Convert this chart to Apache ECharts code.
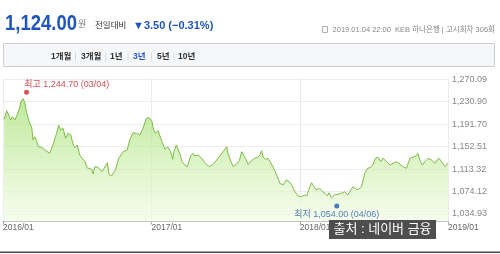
<!DOCTYPE html>
<html><head><meta charset="utf-8">
<script src="https://cdn.jsdelivr.net/npm/echarts@6/dist/echarts.min.js"></script>
<style>html,body{margin:0;padding:0;background:#fff}#c{width:500px;height:254px}</style>
</head><body><div id="c"></div>
<script>
// ---------- data ----------
const dates = [
'2016-01-04','2016-01-10','2016-01-15','2016-01-20','2016-01-24','2016-01-30','2016-02-05','2016-02-10','2016-02-15','2016-02-20',
'2016-02-24','2016-02-28','2016-03-05','2016-03-12','2016-03-15','2016-03-19','2016-03-24','2016-03-28','2016-04-05','2016-04-13',
'2016-04-25','2016-05-03','2016-05-12','2016-05-17','2016-05-22','2016-05-28','2016-06-03','2016-06-09','2016-06-16','2016-06-22',
'2016-06-26','2016-07-02','2016-07-08','2016-07-12','2016-07-21','2016-07-26','2016-08-06','2016-08-10','2016-08-14','2016-08-22',
'2016-08-26','2016-09-01','2016-09-06','2016-09-14','2016-09-18','2016-09-24','2016-09-28','2016-10-04','2016-10-12','2016-10-23',
'2016-11-02','2016-11-08','2016-11-16','2016-11-25','2016-12-03','2016-12-11','2016-12-19','2016-12-26','2017-01-02','2017-01-06',
'2017-01-11','2017-01-17','2017-01-25','2017-02-03','2017-02-09','2017-02-17','2017-02-22','2017-02-25','2017-03-03','2017-03-07',
'2017-03-11','2017-03-17','2017-03-24','2017-03-30','2017-04-07','2017-04-13','2017-04-17','2017-04-26','2017-05-04','2017-05-12',
'2017-05-23','2017-06-02','2017-06-10','2017-06-18','2017-06-26','2017-07-05','2017-07-08','2017-07-14','2017-07-21','2017-07-29',
'2017-08-05','2017-08-11','2017-08-14','2017-08-20','2017-08-27','2017-09-04','2017-09-12','2017-09-19','2017-09-25','2017-09-29',
'2017-10-03','2017-10-09','2017-10-15','2017-10-23','2017-10-27','2017-10-31','2017-11-06','2017-11-13','2017-11-21','2017-11-29',
'2017-12-06','2017-12-12','2017-12-20','2017-12-28','2018-01-05','2018-01-12','2018-01-18','2018-01-23','2018-01-30','2018-02-05',
'2018-02-11','2018-02-19','2018-02-26','2018-03-04','2018-03-10','2018-03-14','2018-03-20','2018-03-27','2018-04-05','2018-04-14',
'2018-04-22','2018-04-29','2018-05-04','2018-05-12','2018-05-21','2018-05-26','2018-06-02','2018-06-06','2018-06-10','2018-06-17',
'2018-06-25','2018-07-01','2018-07-06','2018-07-13','2018-07-19','2018-07-25','2018-08-03','2018-08-11','2018-08-19','2018-08-27',
'2018-09-04','2018-09-12','2018-09-21','2018-09-25','2018-09-29','2018-10-07','2018-10-14','2018-10-19','2018-10-25','2018-10-30',
'2018-11-05','2018-11-13','2018-11-21','2018-11-30','2018-12-05','2018-12-10','2018-12-16','2018-12-24','2019-01-01'
];
const rates = [
1200.3,1215.3,1207.8,1199.0,1204.8,1199.0,1207.8,1218.2,1232.7,1236.2,
1228.2,1211.8,1197.8,1184.6,1164.1,1169.9,1162.4,1152.4,1151.4,1146.7,
1140.9,1155.4,1175.8,1190.3,1181.6,1184.6,1167.1,1175.8,1172.9,1155.4,
1150.7,1155.4,1137.9,1133.9,1126.2,1115.8,1113.0,1104.8,1117.5,1116.5,
1114.7,1108.8,1114.7,1124.5,1104.8,1101.3,1103.0,1111.8,1132.2,1143.7,
1146.7,1164.1,1176.9,1175.8,1172.9,1184.6,1202.0,1203.1,1196.1,1181.6,
1175.8,1180.4,1164.1,1147.9,1152.4,1143.7,1130.4,1143.7,1155.4,1153.7,
1140.9,1126.2,1120.5,1117.5,1136.2,1140.9,1136.2,1137.9,1132.2,1124.5,
1117.5,1121.7,1129.2,1136.2,1143.7,1152.4,1140.9,1129.2,1117.5,1121.7,
1128.0,1143.7,1142.0,1132.2,1121.7,1128.0,1132.2,1133.9,1137.9,1145.4,
1133.9,1130.4,1132.2,1122.2,1117.5,1118.7,1101.3,1088.5,1085.6,1094.3,
1091.3,1085.6,1073.9,1066.4,1065.1,1068.1,1066.4,1076.8,1089.6,1082.6,
1076.8,1079.8,1073.9,1071.1,1066.4,1072.1,1063.4,1068.1,1069.3,1071.1,
1073.9,1068.1,1073.9,1082.6,1078.1,1078.1,1082.6,1094.3,1106.0,1114.7,
1116.5,1122.2,1132.2,1133.9,1126.2,1132.2,1126.2,1120.5,1123.5,1126.2,
1122.2,1117.5,1114.7,1123.5,1132.2,1133.9,1136.2,1140.9,1126.2,1120.5,
1126.2,1132.2,1129.2,1123.5,1129.2,1132.2,1126.2,1117.5,1124.0
];
const xTickDates = ['2016-01-01','2017-01-01','2018-01-01','2019-01-01'];
const yTickValues = [1034.93, 1074.12, 1113.32, 1152.51, 1191.70, 1230.90, 1270.09];
const highPoint = ['2016-02-28', 1244.70];
const lowPoint = ['2018-04-02', 1054.00];
const highText = '최고 1,244.70 (03/04)';
const lowText = '최저 1,054.00 (04/06)';
const currentRate = '1,124.00';
const changeText = '▼3.50 (−0.31%)';
const infoText = '2019.01.04 22:00  KEB 하나은행 | 고시회차 306회';
const tabs = ['1개월','3개월','1년','3년','5년','10년'];
const sourceText = '출처 : 네이버 금융';

// ---------- helpers ----------
function ts(s){const p=s.split('-').map(Number);return new Date(p[0],p[1]-1,p[2]).getTime();}
function fmtNum(v){const s=Number(v).toFixed(2).split('.');return s[0].replace(/\B(?=(\d{3})+(?!\d))/g,',')+'.'+s[1];}
function fmtYM(v){const d=new Date(v);return d.getFullYear()+'/'+String(d.getMonth()+1).padStart(2,'0');}
const FF = "'Liberation Sans','Noto Sans CJK KR',sans-serif";

const chart = echarts.init(document.getElementById('c'), null, {renderer:'canvas'});

const tabX = [51,81,110,133,157,178];
const sepX = [75.5,105.5,128,151.5,174];
const graphics = [
  {type:'rect', shape:{x:3.5,y:43.5,width:491,height:23}, style:{fill:'#f5f6f8',stroke:'#cdd0d6',lineWidth:1}, z:1},
  {type:'text', x:5, y:24, scaleX:0.84, style:{text:currentRate,x:0,y:0,verticalAlign:'middle',font:"bold 22px "+FF,fill:'#1f55c0'}},
  {type:'text', style:{text:'원',x:78,y:25,verticalAlign:'middle',font:"9px "+FF,fill:'#777'}},
  {type:'text', style:{text:'전일대비',x:95,y:26,verticalAlign:'middle',font:"8.5px "+FF,fill:'#333'}},
  {type:'text', style:{text:changeText,x:133,y:26,verticalAlign:'middle',font:"bold 11px "+FF,fill:'#1f55c0'}},
  {type:'rect', shape:{x:322.5,y:26.5,width:5,height:6}, style:{fill:'none',stroke:'#b0b0b0',lineWidth:1}},
  {type:'text', style:{text:infoText,x:495,y:30,align:'right',verticalAlign:'middle',font:"7.5px "+FF,fill:'#888'}},
  {type:'rect', shape:{x:0,y:251.5,width:500,height:1.5}, style:{fill:'#4a4a4a'}},
  {type:'rect', shape:{x:329,y:220,width:107,height:19}, style:{fill:'#4e4e4e'}, z:100},
  {type:'text', style:{text:sourceText,x:382.5,y:229.5,align:'center',verticalAlign:'middle',font:"13px "+FF,fill:'#fff'}, z:101}
];
tabs.forEach((t,i)=>{
  graphics.push({type:'text', z:2, style:{text:t,x:tabX[i],y:56.5,verticalAlign:'middle',font:"bold 8.5px "+FF,fill:t==='3년'?'#2a5ccc':'#333'}});
});
sepX.forEach(x=>{
  graphics.push({type:'line', z:2, shape:{x1:x,y1:52.5,x2:x,y2:60.5}, style:{stroke:'#d6d9de',lineWidth:1}});
});

const xTicks = xTickDates.map(ts);
const option = {
  animation:false,
  grid:{left:3,right:52,top:79.3,bottom:32.5,containLabel:false,outerBoundsMode:'none'},
  xAxis:{
    type:'value', min:ts('2016-01-01'), max:ts('2019-01-01'),
    axisLine:{show:true,lineStyle:{color:'#a8a8a8',width:1}},
    axisTick:{show:true,length:3,lineStyle:{color:'#a8a8a8'},customValues:xTicks},
    axisLabel:{customValues:xTicks,formatter:v=>fmtYM(v),align:'left',margin:2,fontSize:8.5,color:'#666',fontFamily:FF},
    splitLine:{show:true,lineStyle:{color:'#ececec',width:1}}
  },
  yAxis:{
    type:'value', position:'right', min:1021.84, max:1270.09,
    axisLine:{show:false},
    axisTick:{show:false,customValues:yTickValues},
    axisLabel:{customValues:yTickValues,formatter:v=>fmtNum(v),margin:4,fontSize:9,color:'#888',fontFamily:FF},
    splitLine:{show:true,lineStyle:{color:'#ececec',width:1}}
  },
  series:[
    {
      type:'line', data:dates.map((d,i)=>[ts(d),rates[i]]), showSymbol:false, symbol:'none', silent:true,
      lineStyle:{color:'#7dba48',width:1},
      areaStyle:{color:new echarts.graphic.LinearGradient(0,0,0,1,[{offset:0,color:'#a3de70'},{offset:0.5,color:'#cdefad'},{offset:1,color:'#f1fbe6'}])},
      z:2
    },
    {
      type:'scatter', data:[[ts(highPoint[0]),highPoint[1]]], symbolSize:5, symbolOffset:[0,-1.5], silent:true,
      itemStyle:{color:'#e0262b'},
      label:{show:true,formatter:highText,position:'top',align:'left',offset:[-2.4,0],distance:1,fontSize:9,color:'#c9232b',fontFamily:FF},
      z:5
    },
    {
      type:'scatter', data:[[ts(lowPoint[0]),lowPoint[1]]], symbolSize:5, symbolOffset:[0,3], silent:true,
      itemStyle:{color:'#1f5bb5'},
      label:{show:true,formatter:lowText,position:'bottom',distance:1,fontSize:9,color:'#2d5fa8',fontFamily:FF},
      z:5
    }
  ],
  graphic:graphics
};
chart.setOption(option);
</script></body></html>
